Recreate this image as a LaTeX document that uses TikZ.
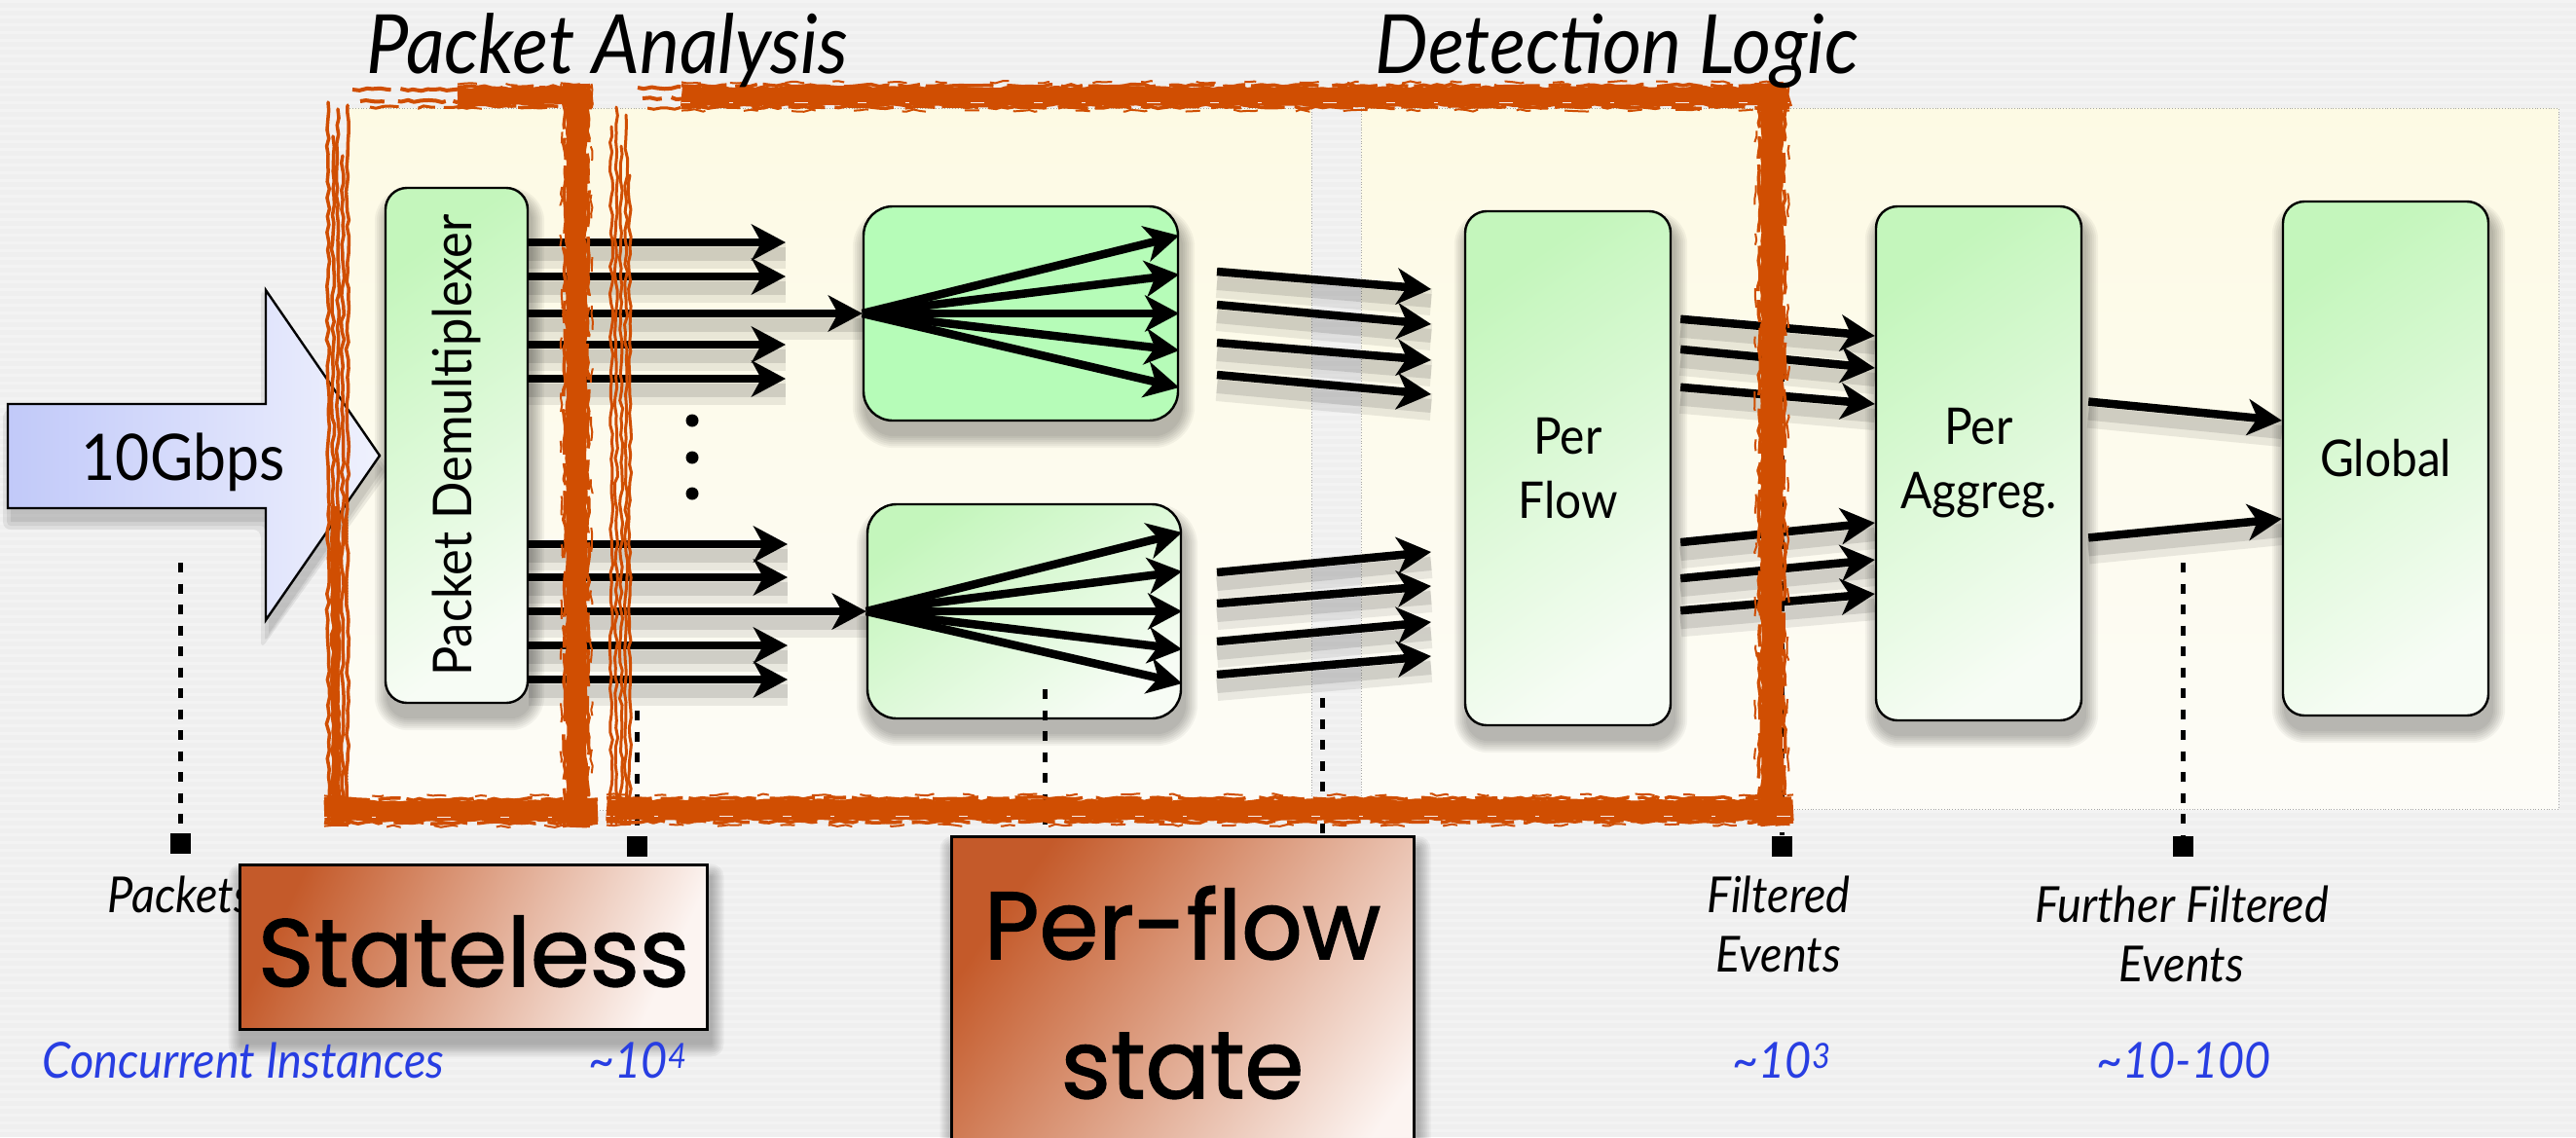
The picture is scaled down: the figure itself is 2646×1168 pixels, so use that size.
\documentclass[tikz,border=0pt]{standalone}
\usepackage{fontspec}
\setmainfont{Lato}
\newfontfamily\gill[FakeStretch=0.92]{Lato}
\newfontfamily\comic[FakeBold=1.5]{Poppins}
\usetikzlibrary{arrows.meta,decorations.pathmorphing,calc}
\pgfdeclarelayer{back}
\pgfdeclarelayer{shade}
\pgfsetlayers{back,shade,main}

\definecolor{bgc}{RGB}{239,239,239}
\definecolor{paneltop}{RGB}{253,250,228}
\definecolor{panelbot}{RGB}{253,252,247}
\definecolor{greenA}{RGB}{196,246,188}
\definecolor{greenB}{RGB}{247,252,245}
\definecolor{fanc}{RGB}{182,252,184}
\definecolor{blueA}{RGB}{193,201,249}
\definecolor{blueB}{RGB}{239,241,253}
\definecolor{orng}{RGB}{208,78,2}
\definecolor{rustA}{RGB}{196,90,42}
\definecolor{rustB}{RGB}{252,244,241}
\definecolor{labelblue}{RGB}{40,62,226}

\tikzset{
  boxbase/.style={draw=black, line width=2.4pt, inner sep=0pt, align=center,
    font=\gill\fontsize{52}{66}\selectfont},
  greenbox/.style={boxbase, rounded corners=22pt, top color=greenA, bottom color=greenB, shading angle=35},
  fanbox/.style={boxbase, rounded corners=30pt, fill=fanc},
  fanboxshaded/.style={boxbase, rounded corners=30pt, top color=greenA, bottom color=greenB, shading angle=35},
  statebox/.style={draw=black, line width=3pt, inner sep=0pt, top color=rustA, bottom color=rustB},
  arrowshadow/.style={
    preaction={draw=black, opacity=0.08, line width=28pt, arrows=-, transform canvas={yshift=-13pt}},
    preaction={draw=black, opacity=0.11, line width=14pt, arrows=-, transform canvas={yshift=-12pt}}},
  tip/.style={-{Stealth[length=35pt, width=37pt, inset=10pt]}},
  flowarrow/.style={arrowshadow, draw=black, line width=8.5pt, tip},
  fanarrow/.style={draw=black, line width=8.5pt, tip},
  dline/.style={draw=black, line width=5pt, dash pattern=on 10pt off 11.5pt},
  sq/.style={fill=black, inner sep=0pt, minimum width=21pt, minimum height=21pt},
  heading/.style={anchor=base, font=\gill\itshape\fontsize{84}{84}\selectfont},
  lbl/.style={anchor=base, font=\gill\itshape\fontsize{51}{51}\selectfont},
  blbl/.style={lbl, text=labelblue},
  statetext/.style={anchor=base, font=\comic\fontsize{98}{98}\selectfont},
  brush/.style={draw=orng, line cap=butt, line join=round, decorate,
    decoration={random steps, segment length=7pt, amplitude=1.3pt}},
  wisp/.style={draw=orng, line cap=round, decorate,
    decoration={random steps, segment length=9pt, amplitude=1.6pt}},
  hairline/.style={draw=gray!70, line width=0.8pt, dotted}
}

% soft shadow under a node: #1 node name, #2 corner radius
\newcommand\boxshade[2]{%
  \foreach \e in {1,3,...,13}{%
    \fill[black, opacity=0.045, rounded corners=#2+\e]
      ([shift={(-\e+3,\e+14)}]#1.south west) rectangle ([shift={(\e+3,-\e+14)}]#1.north east);
  }}

% dry-brush horizontal band: x1, x2, y centre, width
\newcommand\hband[4]{%
  \draw[brush, line width={#4*0.72pt}] (#1,#3) -- (#2,#3);
  \draw[brush, line width=3.5pt, dash pattern=on 47pt off 9pt on 23pt off 6pt on 70pt off 14pt]
    (#1,#3-#4*0.4) -- (#2,#3-#4*0.4);
  \draw[brush, line width=3.5pt, dash pattern=on 61pt off 12pt on 31pt off 7pt on 38pt off 10pt]
    (#1,#3+#4*0.4) -- (#2,#3+#4*0.4);
  \draw[brush, line width=2pt, dash pattern=on 20pt off 30pt on 12pt off 45pt]
    (#1,#3-#4*0.52) -- (#2,#3-#4*0.52);
  \draw[brush, line width=2pt, dash pattern=on 25pt off 40pt on 15pt off 35pt]
    (#1,#3+#4*0.52) -- (#2,#3+#4*0.52);
  \draw[white!90!orng, line width=1.3pt, dash pattern=on 9pt off 40pt on 4pt off 63pt on 14pt off 51pt]
    (#1,#3+#4*0.22) -- (#2,#3+#4*0.22);
}
% dry-brush vertical band: y1, y2, x centre, width
\newcommand\vband[4]{%
  \draw[brush, line width={#4*0.72pt}] (#3,#1) -- (#3,#2);
  \draw[brush, line width=3.5pt, dash pattern=on 47pt off 9pt on 23pt off 6pt on 70pt off 14pt]
    (#3-#4*0.4,#1) -- (#3-#4*0.4,#2);
  \draw[brush, line width=3.5pt, dash pattern=on 61pt off 12pt on 31pt off 7pt on 38pt off 10pt]
    (#3+#4*0.4,#1) -- (#3+#4*0.4,#2);
  \draw[brush, line width=2pt, dash pattern=on 20pt off 30pt on 12pt off 45pt]
    (#3-#4*0.52,#1) -- (#3-#4*0.52,#2);
  \draw[brush, line width=2pt, dash pattern=on 25pt off 40pt on 15pt off 35pt]
    (#3+#4*0.52,#1) -- (#3+#4*0.52,#2);
}

\begin{document}
\begin{tikzpicture}[x=1pt,y=-1pt]
\useasboundingbox (0,0) rectangle (2646,1168);
\pgfmathsetseed{7}

% ---------- backdrop and the two panels ----------
\begin{pgfonlayer}{back}
  \fill[bgc] (0,0) rectangle (2646,1168);
  \foreach \k in {0,...,146} \fill[white, opacity=0.3] (0,\k*8) rectangle (2646,\k*8+3);
  \path[top color=paneltop, bottom color=panelbot] (357,111) rectangle (1347,832);
  \draw[hairline] (357,111) rectangle (1347,832);
  \path[top color=paneltop, bottom color=panelbot] (1398,111) rectangle (2628,831);
  \draw[hairline] (1398,111) rectangle (2628,831);
\end{pgfonlayer}

% ---------- input arrow ----------
\begin{pgfonlayer}{shade}
  \foreach \e in {0,4,8}
    \fill[black, opacity=0.07, shift={(3,14)}, rounded corners=\e]
      (8-\e,415-\e) -- (273-\e,415-\e) -- (273-\e,298-2*\e) -- (390+\e,468) -- (273-\e,637+2*\e)
      -- (273-\e,522+\e) -- (8-\e,522+\e) -- cycle;
\end{pgfonlayer}
\path[left color=blueA, right color=blueB, draw=black, line width=2.4pt]
  (8,415) -- (273,415) -- (273,298) -- (390,468) -- (273,637) -- (273,522) -- (8,522) -- cycle;
\node[anchor=base, font=\gill\fontsize{66}{66}\selectfont] (gbps) at (188,493) {10Gbps};

% ---------- processing boxes ----------
\node[greenbox, minimum width=146pt, minimum height=529pt] (demux) at (469,457.5)
  {\rotatebox{90}{\fontsize{55}{55}\selectfont Packet Demultiplexer}};
\node[fanbox, minimum width=323pt, minimum height=220pt] (fanA) at (1048.5,322) {};
\node[fanboxshaded, minimum width=322pt, minimum height=220pt] (fanB) at (1052,628) {};
\node[greenbox, minimum width=211pt, minimum height=528pt] (perflow) at (1610.5,481) {Per\\Flow};
\node[greenbox, minimum width=211pt, minimum height=528pt] (aggr) at (2032.5,476) {Per\\Aggreg.};
\node[greenbox, minimum width=211pt, minimum height=528pt] (global) at (2450.5,471) {Global};

\begin{pgfonlayer}{shade}
  \boxshade{demux}{22}
  \boxshade{fanA}{30}
  \boxshade{fanB}{30}
  \boxshade{perflow}{22}
  \boxshade{aggr}{22}
  \boxshade{global}{22}
\end{pgfonlayer}

% ---------- demultiplexer outputs ----------
\foreach \y in {249,284,354,389} {
  \coordinate (da\y) at (807,\y);
  \draw[flowarrow] (demux.east |- da\y) -- (da\y);
}
\draw[flowarrow] (demux.east |- fanA.west) -- (fanA.west);
\foreach \y in {559,593,663,698} {
  \coordinate (db\y) at (809,\y);
  \draw[flowarrow] (demux.east |- db\y) -- (db\y);
}
\draw[flowarrow] (demux.east |- fanB.west) -- (fanB.west);
\foreach \y [count=\i] in {432,470,507}
  \node[circle, fill=black, inner sep=0pt, minimum size=13pt] (dot\i) at (711,\y) {};

% ---------- fan-out inside the analysers ----------
\foreach \dy in {-80,-40,0,38,76}
  \draw[fanarrow] (fanA.west) -- ($(fanA.east)+(0,\dy)$);
\foreach \dy in {-81,-41,0,39,74}
  \draw[fanarrow] (fanB.west) -- ($(fanB.east)+(0,\dy)$);

% ---------- analysers to per-flow logic ----------
\foreach \i/\ya/\yb in {1/279/297,2/313/333,3/352/370,4/385/405,
                         5/588/567,6/620/602,7/659/639,8/693/674} {
  \coordinate (pa\i) at (1250,\ya);
  \coordinate (pb\i) at (1470,\yb);
  \draw[flowarrow] (pa\i) -- (pb\i);
}
\foreach \ya/\yb in {327/345,358/378,397/415,558/537,595/575,628/610}
  \draw[flowarrow, shorten <=9pt] (perflow.east |- 0,\ya) -- (aggr.west |- 0,\yb);
\foreach \ya/\yb in {412/432,553/533}
  \draw[flowarrow, shorten <=6pt] (aggr.east |- 0,\ya) -- (global.west |- 0,\yb);

% ---------- measurement taps ----------
\node[sq] (qa) at (185,866.5) {};
\node[sq] (qb) at (654,869) {};
\node[sq] (qc) at (1073,869) {};
\node[sq] (qd) at (1358,869) {};
\node[sq] (qe) at (1830,869) {};
\node[sq] (qf) at (2242,869) {};
\coordinate (ta) at (185,578);
\coordinate (tb) at (654,730);
\coordinate (tc) at (1073,708);
\coordinate (td) at (1358,717);
\coordinate (te) at (1830,360);
\coordinate (tf) at (2242,578);
\foreach \n in {a,b,c,d,e,f} \draw[dline] (t\n) -- (q\n.north);

% ---------- hand-drawn highlight frames ----------
% stateless part
\hband{470}{608}{99}{24}
\draw[brush, line width=4pt, dash pattern=on 40pt off 10pt on 60pt off 12pt] (362,92) -- (600,92);
\draw[brush, line width=4pt, dash pattern=on 25pt off 14pt on 50pt off 8pt] (370,104) -- (600,104);
\draw[brush, line width=3pt, dash pattern=on 30pt off 20pt on 18pt off 9pt] (380,110) -- (600,110);
\vband{86}{850}{592}{30}
\hband{333}{614}{833}{30}
\foreach \x/\a in {337/105,342/140,347/112,352/160,357/108}
  \draw[wisp, line width=3.5pt] (\x,\a) -- (\x,846);
\draw[brush, line width=9pt] (345,520) -- (345,846);
% per-flow part
\hband{700}{1838}{99}{28}
\draw[brush, line width=4pt, dash pattern=on 45pt off 12pt on 30pt off 9pt] (655,90) -- (720,90);
\draw[brush, line width=4pt, dash pattern=on 20pt off 10pt on 55pt off 15pt] (660,101) -- (720,101);
\draw[brush, line width=3pt, dash pattern=on 35pt off 16pt on 22pt off 8pt] (665,111) -- (720,111);
\vband{85}{848}{1820}{32}
\hband{623}{1842}{832}{30}
\foreach \x/\a in {628/130,633/110,638/150,643/118,647/180}
  \draw[wisp, line width=3pt] (\x,\a) -- (\x,846);

% ---------- titles and annotations ----------
\node[heading] (hpa) at (624,75) {Packet Analysis};
\node[heading] (hdl) at (1661,75) {Detection Logic};
\node[lbl] (lpk) at (185,937) {Packets};
\node[lbl] (lfe1) at (1827,937) {Filtered};
\node[lbl] (lfe2) at (1827,998) {Events};
\node[lbl] (lff1) at (2241,947) {Further Filtered};
\node[lbl] (lff2) at (2241,1008) {Events};
\node[blbl] (lci) at (250,1107) {Concurrent Instances};
\node[blbl] (n4) at (655,1107) {\textasciitilde10\textsuperscript{4}};
\node[blbl] (n3) at (1830,1107) {\textasciitilde10\textsuperscript{3}};
\node[blbl] (n100) at (2243,1107) {\textasciitilde10-100};

% ---------- state call-outs ----------
\node[statebox, shading angle=65, minimum width=480pt, minimum height=169pt] (stateless) at (486,972.5) {};
\node[statebox, shading angle=55, minimum width=475pt, minimum height=400pt, anchor=north] (pfstate) at (1214.5,858) {};
\begin{pgfonlayer}{shade}
  \boxshade{stateless}{0}
  \boxshade{pfstate}{0}
\end{pgfonlayer}
\node[statetext] (tstateless) at (486.5,1013) {Stateless};
\node[statetext] (tperflow) at (1214.5,985) {Per-flow};
\node[statetext] (tstate) at (1214.5,1128) {state};
\end{tikzpicture}
\end{document}
